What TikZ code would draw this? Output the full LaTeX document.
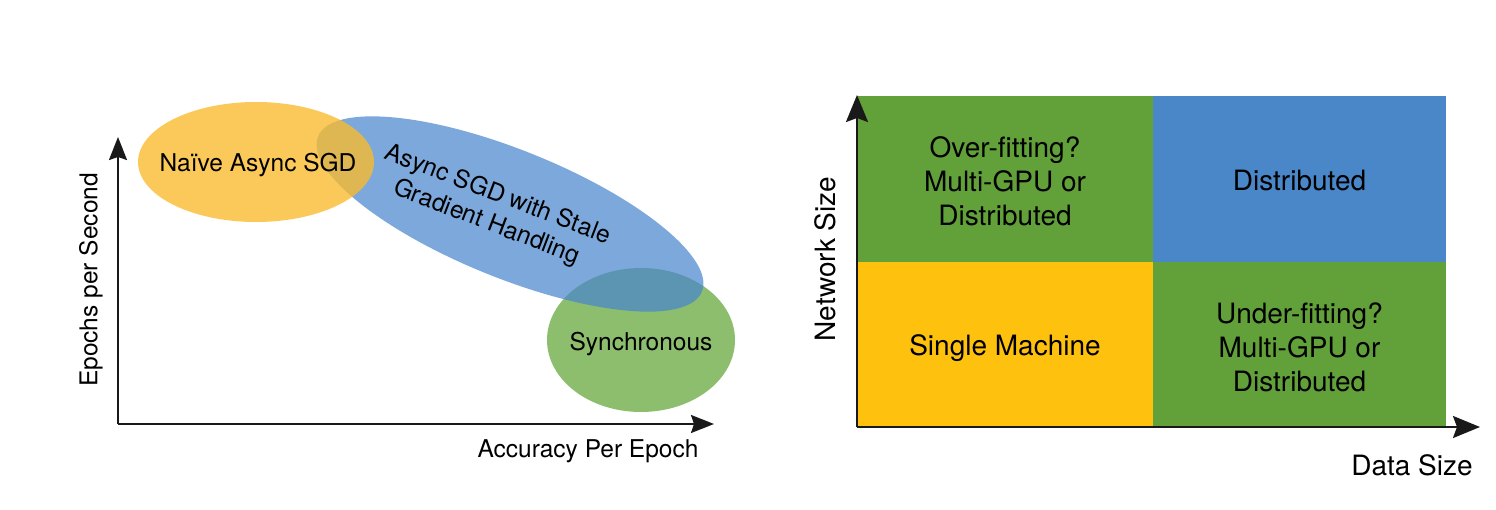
\documentclass[tikz,border=0pt]{standalone}
\usepackage{fontspec}
\setmainfont{TeX Gyre Heros}
\usetikzlibrary{arrows.meta,shapes.geometric}
\definecolor{lorange}{RGB}{250,186,44}
\definecolor{lblue}{RGB}{74,134,205}
\definecolor{lgreen}{RGB}{140,190,110}
\definecolor{rgreen}{RGB}{98,160,58}
\definecolor{rblue}{RGB}{74,135,201}
\definecolor{ryellow}{RGB}{253,193,14}
\definecolor{axiscol}{RGB}{25,25,25}
\tikzset{
  leftfont/.style={font=\fontsize{24.5}{30}\selectfont},
  rightfont/.style={font=\fontsize{28}{34}\selectfont},
  blob/.style={ellipse, inner sep=0pt, draw=none},
  cell/.style={rectangle, inner sep=0pt, draw=none},
  celltext/.style={align=center, rightfont},
  laxis/.style={draw=axiscol, line width=2pt, -{Stealth[length=23pt,width=18pt,inset=3pt]}},
  raxis/.style={draw=axiscol, line width=2.4pt, -{Stealth[length=27pt,width=22pt,inset=4pt]}},
}
\begin{document}
\begin{tikzpicture}[x=1pt,y=-1pt]
\useasboundingbox (0,0) rectangle (1496,510);
% ---------- left diagram ----------
\node[blob, fill=lgreen, minimum width=188pt, minimum height=144pt] (sync) at (641,340) {};
\node[blob, fill=lblue, fill opacity=0.72, minimum width=414pt, minimum height=128pt, rotate=-22] (stale) at (510,214) {};
\node[blob, fill=lorange, fill opacity=0.78, minimum width=236pt, minimum height=120pt] (naive) at (256,162) {};
\node[leftfont, anchor=base] (naivetxt) at (258,172) {Naïve Async SGD};
\node[leftfont, anchor=base] (synctxt) at (641,351) {Synchronous};
\node[leftfont, align=center, rotate=-21] (staletxt) at (492,209) {Async SGD with Stale\\Gradient Handling};
\coordinate (lo) at (118,424);
\coordinate (ltop) at (118,137);
\coordinate (lright) at (714,424);
\draw[laxis] (lo) -- (ltop);
\draw[laxis] (lo) -- (lright);
\node[leftfont, rotate=90] (ylab1) at (91,280) {Epochs per Second};
\node[leftfont, anchor=base] (xlab1) at (588,457) {Accuracy Per Epoch};
% ---------- right diagram ----------
\node[cell, fill=rgreen, minimum width=296pt, minimum height=166pt] (over) at (1005,179) {};
\node[cell, fill=rblue, minimum width=293pt, minimum height=166pt] (dist) at (1299.5,179) {};
\node[cell, fill=ryellow, minimum width=296pt, minimum height=165pt] (single) at (1005,344.5) {};
\node[cell, fill=rgreen, minimum width=293pt, minimum height=165pt] (under) at (1299.5,344.5) {};
\node[celltext] (overtxt) at ([yshift=-2.5pt]over.center) {Over-fitting?\\Multi-GPU or\\Distributed};
\node[celltext] (disttxt) at ([yshift=-2pt]dist.center) {Distributed};
\node[celltext] (singletxt) at ([yshift=-4pt]single.center) {Single Machine};
\node[celltext] (undertxt) at ([yshift=-2.5pt]under.center) {Under-fitting?\\Multi-GPU or\\Distributed};
\coordinate (ro) at (857,427);
\coordinate (rtop) at (857,95);
\coordinate (rright) at (1480,427);
\draw[raxis] (ro) -- (rtop);
\draw[raxis] (ro) -- (rright);
\node[rightfont, rotate=90] (ylab2) at (825,259) {Network Size};
\node[rightfont, anchor=base] (xlab2) at (1412,475) {Data Size};
\end{tikzpicture}
\end{document}
